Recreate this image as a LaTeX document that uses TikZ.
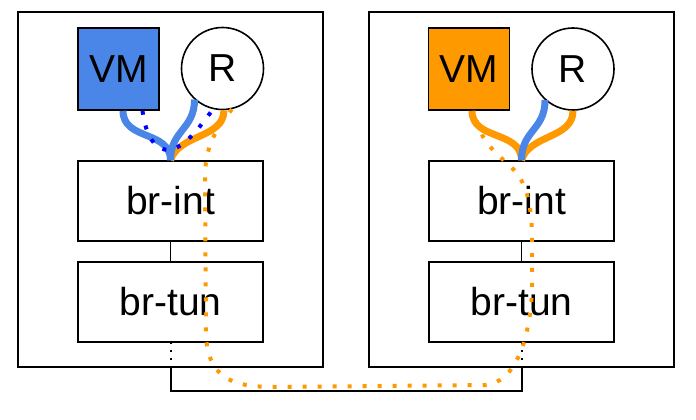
\documentclass[tikz,border=0pt]{standalone}
\usepackage{fontspec}
\setmainfont{Liberation Sans}
\definecolor{vmblue}{HTML}{4A86E8}
\definecolor{vmorange}{HTML}{FF9900}
\definecolor{dotblue}{HTML}{0000FF}
\tikzset{
  hostbox/.style={draw, line width=1.6pt, minimum width=305pt, minimum height=355pt, inner sep=0pt},
  vmbox/.style={draw, line width=1.6pt, minimum width=81pt, minimum height=82pt, inner sep=0pt, font=\fontsize{39}{39}\selectfont},
  router/.style={draw, circle, line width=1.6pt, minimum size=82pt, inner sep=0pt, fill=white, font=\fontsize{39}{39}\selectfont},
  bridge/.style={draw, line width=1.6pt, minimum width=185pt, minimum height=80pt, inner sep=0pt, fill=white, font=\fontsize{39}{39}\selectfont},
  link/.style={line width=7pt},
  dotpath/.style={line width=4pt, dash pattern=on 4pt off 11pt},
  tunnel/.style={line width=1.6pt},
  tunneldots/.style={line width=1.6pt, dash pattern=on 1.6pt off 6pt}
}
\begin{document}
\begin{tikzpicture}[x=1pt,y=-1pt]
\useasboundingbox (0,0) rectangle (696,420);
% hosts
\node[hostbox] (h1) at (170.5,189.5) {};
\node[hostbox] (h2) at (521.5,189.5) {};
% bridges
\node[bridge] (int1) at (170.5,201) {br-int};
\node[bridge] (tun1) at (170.5,302) {br-tun};
\node[bridge] (int2) at (521.5,201) {br-int};
\node[bridge] (tun2) at (521.5,302) {br-tun};
\draw[tunnel] (int1) -- (tun1);
\draw[tunnel] (int2) -- (tun2);
% VMs and routers
\node[vmbox, fill=vmblue] (vm1) at (118.5,69) {VM};
\node[router] (r1) at (222.5,68.5) {R};
\node[vmbox, fill=vmorange] (vm2) at (469,69) {VM};
\node[router] (r2) at (573,69) {R};
% links left
\draw[link, vmorange] (r1.272) .. controls ([yshift=-28pt]r1.272) and ([shift={(8pt,26pt)}]int1.north) .. (int1.north);
\draw[link, vmblue] ([xshift=4.5pt]vm1.south) .. controls ([xshift=4.5pt,yshift=-30pt]vm1.south) and ([yshift=30pt]int1.north) .. (int1.north);
\draw[link, vmblue] (r1.228) .. controls ([yshift=-30pt]r1.228) and ([yshift=30pt]int1.north) .. (int1.north);
% links right
\draw[link, vmorange] ([xshift=3pt]vm2.south) .. controls ([xshift=3pt,yshift=-30pt]vm2.south) and ([yshift=30pt]int2.north) .. (int2.north);
\draw[link, vmorange] (r2.270) .. controls ([yshift=-28pt]r2.270) and ([shift={(8pt,26pt)}]int2.north) .. (int2.north);
\draw[link, vmblue] (r2.228) .. controls ([yshift=-30pt]r2.228) and ([yshift=30pt]int2.north) .. (int2.north);
% blue dotted path
\coordinate (bd) at (169,150);
\draw[dotpath, dotblue] ([xshift=24pt]vm1.south) .. controls (146,138) and (156,150) .. (bd) .. controls (186,148) and (203,122) .. (r1.257);
% tunnel between br-tun
\coordinate (tb1) at (171,391);
\coordinate (tb2) at (522,391);
\draw[tunneldots] ([xshift=0.5pt]tun1.south) -- ([xshift=0.5pt]h1.south);
\draw[tunneldots] ([xshift=0.5pt]tun2.south) -- ([xshift=0.5pt]h2.south);
\draw[tunnel] ([xshift=0.5pt]h1.south) -- (tb1) -- (tb2) -- ([xshift=0.5pt]h2.south);
% orange dotted path
\coordinate (o1) at (205,178);
\coordinate (o2) at (206,335);
\coordinate (o3) at (275,387);
\coordinate (o4) at (485,385);
\coordinate (o5) at (532,290);
\coordinate (o6) at (532,240);
\coordinate (o7) at (511,167);
\draw[dotpath, vmorange] (r1.283) .. controls (213,132) and (205,150) .. (o1) -- (o2) .. controls (208,380) and (235,387) .. (o3) -- (o4) .. controls (515,383) and (530,340) .. (o5) -- (o6) .. controls (532,200) and (525,180) .. (o7) .. controls (495,152) and (478,140) .. ([xshift=6pt]vm2.south);
\end{tikzpicture}
\end{document}
